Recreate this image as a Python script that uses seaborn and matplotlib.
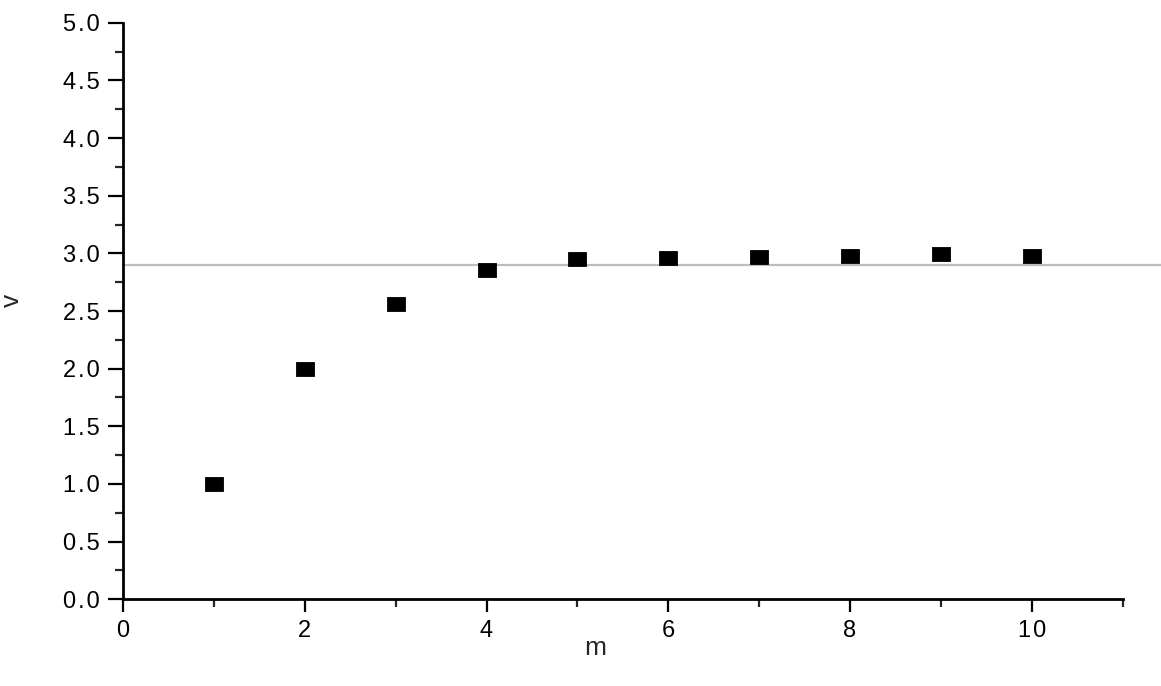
import matplotlib
matplotlib.use("Agg")
import matplotlib.pyplot as plt
import seaborn as sns
import pandas as pd
from matplotlib.ticker import MultipleLocator, FuncFormatter

m_values = [1, 2, 3, 4, 5, 6, 7, 8, 9, 10]
v_values = [1.00, 2.00, 2.56, 2.855, 2.955, 2.96, 2.97, 2.98, 2.99, 2.976]
reference_level = 2.90
x_label = "m"
y_label = "v"
x_ticks = [0, 2, 4, 6, 8, 10]

df = pd.DataFrame({"m": m_values, "v": v_values})

sns.set_style("ticks")
plt.rcParams["font.family"] = ["Liberation Sans", "DejaVu Sans"]

fig = plt.figure(figsize=(11.61, 6.86), dpi=100)
ax = fig.add_axes([123 / 1161, 1 - 599.3 / 686, (1122.7 - 123) / 1161, (599.3 - 22.7) / 686])

rect = [(-1, -0.76), (1, -0.76), (1, 0.76), (-1, 0.76), (-1, -0.76)]
sns.scatterplot(data=df, x="m", y="v", ax=ax, marker=rect, s=170,
                color="black", edgecolor="black", linewidth=0.6, zorder=3, legend=False)

ax.axhline(reference_level, xmin=0, xmax=(1161 - 123) / (1122.7 - 123),
           color="#bdbdbd", linewidth=1.6, clip_on=False, zorder=2)

ax.set_xlim(0, 11)
ax.set_ylim(0, 5)
ax.xaxis.set_minor_locator(MultipleLocator(1))
ax.yaxis.set_major_locator(MultipleLocator(0.5))
ax.yaxis.set_minor_locator(MultipleLocator(0.25))
ax.set_xticks(x_ticks)
ax.set_xticklabels(["\u200a".join(str(t)) for t in x_ticks])
ax.yaxis.set_major_formatter(FuncFormatter(lambda v, p: "\u200a".join(f"{v:.1f}")))

for side in ["top", "right"]:
    ax.spines[side].set_visible(False)
for side in ["left", "bottom"]:
    ax.spines[side].set_linewidth(2.0)
    ax.spines[side].set_color("black")

ax.tick_params(axis="y", which="major", direction="out", length=11, width=1.6, labelsize=17, pad=6, colors="black")
ax.tick_params(axis="y", which="minor", direction="out", length=6, width=1.6)
ax.tick_params(axis="x", which="major", direction="out", length=9, width=1.6, labelsize=17, pad=6, colors="black")
ax.tick_params(axis="x", which="minor", direction="out", length=5.5, width=1.6)

ax.set_xlabel(x_label, fontsize=19)
ax.set_ylabel(y_label, fontsize=19)
ax.xaxis.set_label_coords((595 - 123) / (1122.7 - 123), -(648 - 599.3) / (599.3 - 22.7))
ax.yaxis.set_label_coords(-(123 - 12) / (1122.7 - 123), (599.3 - 300) / (599.3 - 22.7))
ax.xaxis.label.set_va("center")
ax.yaxis.label.set_va("center")

ax.set_facecolor("white")
fig.patch.set_facecolor("white")
fig.savefig("out.png", dpi=100)
